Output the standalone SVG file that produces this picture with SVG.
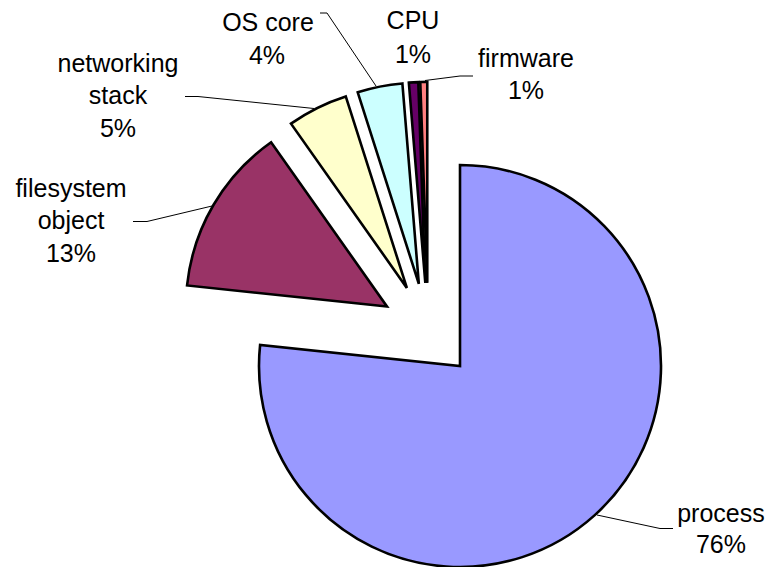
<svg xmlns="http://www.w3.org/2000/svg" width="768" height="567" viewBox="0 0 768 567">
  <style>
    .slice { stroke: #000; stroke-width: 2.6; stroke-linejoin: miter; stroke-miterlimit: 4; }
    .leader { fill: none; stroke: #000; stroke-width: 1; }
    .lbl { font-family: "Liberation Sans", Arial, sans-serif; font-size: 25px; fill: #000; text-anchor: middle; }
  </style>
  <rect width="768" height="567" fill="#fff"/>

  <!-- leader lines from labels to slices -->
  <g id="leaders">
    <polyline class="leader" points="320,13 327,13 376,86"/>
    <polyline class="leader" points="185,96.5 198,96.5 314,108.5"/>
    <polyline class="leader" points="133,221.5 147,221.5 212,206"/>
    <polyline class="leader" points="425,80.5 460,76 473,76"/>
    <polyline class="leader" points="597,515 660,528.5 673,528.5"/>
  </g>

  <!-- exploded pie slices, clockwise from 12 o'clock -->
  <g id="process">
    <path class="slice" fill="#9999FF" d="M460,366 L460,165 A201,201 0 1 1 260.1,345 Z"/>
    <text class="lbl" x="721" y="522">process</text>
    <text class="lbl" x="721" y="553">76%</text>
  </g>
  <g id="filesystem-object">
    <path class="slice" fill="#993366" d="M386.96,306.46 L187.06,285.45 A201,201 0 0 1 271.1,142.22 Z"/>
    <text class="lbl" x="71" y="197">filesystem</text>
    <text class="lbl" x="71" y="229">object</text>
    <text class="lbl" x="71" y="262">13%</text>
  </g>
  <g id="networking-stack">
    <path class="slice" fill="#FFFFCC" d="M406.85,287.89 L290.99,123.65 A201,201 0 0 1 345.75,96.4 Z"/>
    <text class="lbl" x="118" y="72">networking</text>
    <text class="lbl" x="118" y="104">stack</text>
    <text class="lbl" x="118" y="137">5%</text>
  </g>
  <g id="os-core">
    <path class="slice" fill="#CCFFFF" d="M418.84,283.81 L357.74,92.32 A201,201 0 0 1 402.37,83.49 Z"/>
    <text class="lbl" x="268" y="31">OS core</text>
    <text class="lbl" x="267" y="64">4%</text>
  </g>
  <g id="cpu">
    <path class="slice" fill="#660066" d="M425.31,282.98 L408.84,82.66 A201,201 0 0 1 418.3,82.1 Z"/>
    <text class="lbl" x="413" y="29">CPU</text>
    <text class="lbl" x="413" y="63">1%</text>
  </g>
  <g id="firmware">
    <path class="slice" fill="#FF8080" d="M427.27,282.91 L420.26,82.03 A201,201 0 0 1 427.27,81.91 Z"/>
    <text class="lbl" x="526" y="67">firmware</text>
    <text class="lbl" x="526" y="99">1%</text>
  </g>
</svg>
